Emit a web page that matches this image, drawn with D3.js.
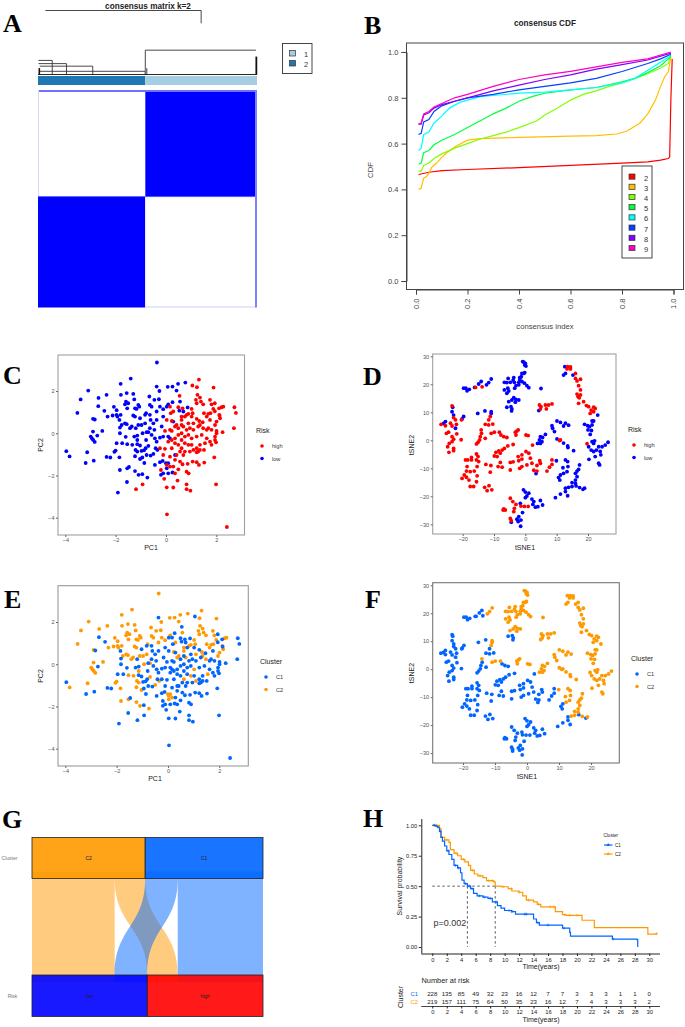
<!DOCTYPE html>
<html>
<head>
<meta charset="utf-8">
<script src="https://cdn.jsdelivr.net/npm/d3@7"></script>
<style>
html,body{margin:0;padding:0;background:#fff;}
svg{display:block;font-family:"Liberation Sans",Arial,sans-serif;}
.letter{font-family:"Liberation Serif",serif;font-weight:bold;font-size:26px;fill:#000;}
</style>
</head>
<body>
<svg id="fig" width="685" height="1027"></svg>
<script>
// panel A
var clusterShare = [0.49, 0.51];
var clusterKeys = ["1", "2"];
var clusterBarColors = ["#1F78B4", "#A6CEE3"];
var legendBarColors = ["#A6CEE3", "#1F78B4"];
var consensusValues = [[0, 1], [1, 0]];
// each merge: left x, right x, left height, right height, top height
var dendroMerges = [
	[0.034, 0.745, 1, 0.80, 1],
	[0.49, 0.995, 0, 0.38, 0.38],
	[0.002, 0.065, 0.22, 0, 0.22],
	[0.002, 0.13, 0.17, 0, 0.17],
	[0.008, 0.25, 0.13, 0, 0.13],
	[0.008, 0.49, 0.05, 0, 0.05]
];

// panel B
var cdfKeys = ["2", "3", "4", "5", "6", "7", "8", "9"];
var cdfColors = ["#FF0000", "#FFBF00", "#80FF00", "#00FF40", "#00FFFF", "#0040FF", "#8000FF", "#FF00BF"];
var cdf2 = [[.01,.465],[.05,.475],[.1,.482],[.2,.487],[.4,.495],[.6,.505],[.8,.515],[.9,.52],[.95,.528],[.98,.535],[.985,.54],[.99,.8],[.995,.97]];
var cdf3 = [[.01,.40],[.02,.405],[.03,.45],[.04,.455],[.05,.47],[.06,.495],[.08,.515],[.1,.54],[.12,.56],[.15,.585],[.2,.615],[.25,.622],[.4,.627],[.6,.633],[.7,.635],[.78,.642],[.82,.655],[.87,.69],[.9,.73],[.93,.79],[.95,.85],[.965,.89],[.98,.915],[.99,.98]];
var cdf4 = [[.01,.48],[.02,.48],[.03,.505],[.05,.515],[.07,.535],[.1,.555],[.15,.58],[.2,.60],[.25,.62],[.3,.635],[.35,.65],[.4,.67],[.47,.70],[.5,.725],[.55,.755],[.6,.79],[.65,.815],[.7,.83],[.75,.85],[.8,.865],[.85,.885],[.9,.905],[.95,.93],[.98,.95],[.99,.99]];
var cdf5 = [[.01,.51],[.02,.515],[.03,.56],[.05,.57],[.07,.595],[.1,.615],[.15,.64],[.2,.67],[.25,.70],[.3,.73],[.35,.755],[.4,.785],[.45,.805],[.5,.82],[.6,.835],[.7,.845],[.8,.87],[.85,.885],[.9,.91],[.95,.94],[.99,.98]];
var cdf6 = [[.01,.57],[.02,.58],[.03,.64],[.05,.65],[.07,.69],[.1,.72],[.13,.755],[.17,.78],[.2,.79],[.25,.805],[.3,.81],[.4,.82],[.5,.825],[.6,.835],[.7,.845],[.8,.865],[.85,.885],[.9,.92],[.95,.955],[.99,.985]];
var cdf7 = [[.01,.64],[.02,.645],[.03,.695],[.05,.705],[.07,.74],[.1,.765],[.15,.785],[.2,.80],[.3,.815],[.4,.835],[.5,.85],[.6,.865],[.7,.885],[.8,.915],[.9,.95],[.95,.97],[.99,.99]];
var cdf8 = [[.01,.685],[.02,.685],[.03,.725],[.05,.735],[.07,.755],[.1,.77],[.15,.785],[.2,.80],[.3,.83],[.4,.855],[.5,.88],[.6,.90],[.7,.925],[.8,.945],[.9,.965],[.99,.995]];
var cdf9 = [[.01,.685],[.02,.69],[.03,.73],[.05,.74],[.07,.76],[.1,.775],[.15,.80],[.2,.815],[.3,.85],[.4,.88],[.5,.90],[.6,.915],[.7,.935],[.8,.955],[.9,.97],[.99,1]];
var cdfSeries = [cdf2, cdf3, cdf4, cdf5, cdf6, cdf7, cdf8, cdf9];

// panels C and E: same samples, split by risk and by cluster
var pcaLowC1 = [[-3.96,-.85],[-3.19,-1.41],[-2.87,-1.3],[-2.73,-.11],[-2.83,.65],[-2.69,1.28],[-2.45,1.06],[-2.36,-1.12],[-2.21,-1.15],[-1.96,-.47],[-1.74,-.47],[-1.91,-2.81],[-1.55,-2.31],[-1.47,-1.6],[-1.85,.63],[-1.83,.27],[-1.83,0],[-1.6,-.17],[-1.26,-.16],[-1.14,-.11],[-1.2,.24],[-1.03,.71],[-.83,.87],[-.64,.24],[-.77,.05],[-.57,-.08],[-.44,-.24],[-.79,-.32],[-1.14,-.52],[-1.03,-.58],[-.97,-.84],[-.87,-.81],[-.81,-.71],[-.77,-1.03],[-.61,-1.06],[-.44,-1.5],[-.41,-.71],[-.24,-1.37],[-.13,-1.31],[-.94,-1.94],[-.86,-1.41],[-.94,-1.15],[-.46,.16],[-.61,.63],[-.5,.47],[-.37,.63],[-.17,.32],[-.24,-.21],[-.11,-.16],[-.11,.79],[.03,1.26],[.26,1.47],[.53,1.07],[.69,1.03],[.86,1.22],[.29,.55],[.36,-1.03],[.09,-1.9],[-.11,-1.9],[-.2,-1.97],[.26,-1.86],[.09,-.16],[.16,-.24],[-.37,-.4],[-.37,2.21],[-.64,.87]];
var pcaLowC2 = [[-3.83,-1.1],[-3.52,.96],[-3.39,1.6],[-3.09,2.02],[-3.13,-.9],[-2.99,-.16],[-2.94,-.25],[-2.89,-.32],[-2.83,-.41],[-2.9,.08],[-2.9,.68],[-2.68,1.67],[-2.53,.11],[-2.36,1.82],[-2.32,.79],[-2.12,.84],[-2.07,1.25],[-1.96,1.09],[-1.96,.87],[-1.8,2.34],[-1.79,1.82],[-1.56,1.9],[-1.4,2.59],[-1.3,1.86],[-1.26,1.6],[-1.59,1.5],[-1.63,1.37],[-1.5,1.42],[-1.54,1.18],[-1.23,1.18],[-1.06,1.26],[-1.17,1.15],[-1.1,1.34],[-1.93,.79],[-1.8,.87],[-1.76,.39],[-1.63,.47],[-1.56,.43],[-2,-.82],[-2.05,-.88],[-1.85,-1.14],[-1.83,-1.74],[-1.54,-1.66],[-1.54,-.52],[-1.23,-1.79],[-1.09,-1.97],[-.74,-2.1],[-1.03,-1.22],[-1.23,-1.09],[-1.21,-.79],[-1.14,-.87],[-1.34,-.55],[-.7,-.6],[-.5,-.98],[-.34,-.79],[-1.36,.32],[-1.43,.24],[-1.1,.39],[-.97,.39],[-.83,.47],[-1.23,.79],[-1.3,.84],[-.79,.95],[-.93,0],[-.7,.05],[-1.14,-.32],[-.64,1.34],[-.57,1.26],[-.66,1.74],[-.46,1.58],[-.28,1.61],[-.37,1.03],[-.24,1.26],[-.11,1.14],[.09,1.37],[-.36,3.35],[-.26,2],[.07,2.2],[.26,2.21],[.42,2.02],[.48,2.34],[.77,2.4],[.56,1.5],[.03,-1.66],[.09,-1.42],[0,-1.42]];
var pcaHighC1 = [[1.05,2.26],[.54,1.77],[.16,1.26],[.19,.95],[.49,1.23],[.66,1.18],[.75,.79],[1.02,.79],[1.22,.68],[1.46,.52],[1.75,.63],[2.11,1.18],[.16,.16],[.23,.11],[.49,.24],[.62,.39],[.82,.16],[.95,.24],[1.09,.16],[1.28,.32],[1.62,.16],[1.81,.16],[2.01,.11],[2.25,.05],[2.7,.24],[2.78,.96],[2.72,1.23],[.09,-.4],[.23,-.32],[.36,-.24],[.49,-.08],[.62,0],[.75,-.16],[.89,-.08],[1.22,-.16],[1.42,-.08],[1.62,-.24],[1.75,-.4],[1.95,-.32],[1.99,-.43],[1.81,-.55],[1.35,-.55],[1.22,-.71],[1.28,-.87],[.95,-.87],[.75,-.87],[.49,-.55],[.36,-.47],[.23,-.71],[-.04,-.74],[-.24,-.71],[-.11,-1.03],[.16,-1.11],[.36,-1.26],[.56,-1.34],[.29,-1.58],[.49,-1.71],[.66,-1.47],[.86,-1.45],[1.06,-1.34],[1.22,-1.37],[1.31,-1.5],[1.52,-1.39],[1.92,-1.14],[1.51,-.79],[1.22,-.9],[1.35,-.79],[.82,-1.82],[.9,-1.9],[.36,-1.9],[-.07,-2.16],[-.2,-1.74],[.46,-2.24],[.82,-2.42],[1.99,-2.42],[.03,-2.56],[.29,-2.57],[.82,-2.65],[.97,-2.72],[-1.19,-2.65],[-.93,-2.42],[.04,-3.84],[2.42,-4.44],[.56,-.87],[.69,-1.03],[1.02,-.55],[.75,-.47],[.62,-.32],[.42,-1.03],[-.04,.11],[.03,.63],[.89,.47],[1.68,.24],[2.01,0],[1.95,-.16],[2.13,.83],[1.94,1.04],[1.94,1.42]];
var pcaHighC2 = [[1.31,2.54],[1.23,2.18],[1.89,2.16],[1.25,1.82],[1.35,1.69],[1.75,1.58],[1.39,1.5],[1.19,1.58],[1.48,1.37],[1.22,1.42],[1.81,1.37],[2.21,1.23],[2.28,1.26],[1.88,1.15],[1.68,.92],[1.77,.95],[2.12,.87],[2.15,.71],[2.01,.55],[1.95,.39],[.29,1.03],[.82,.87],[.62,.79],[1.02,1.15],[1.06,.95],[.89,.92],[1.32,.58],[1.51,.95],[1.62,.79],[.36,.32],[.69,.32],[1.48,.24],[1.02,-.24],[1.55,-.47],[1.09,-.79],[.62,-.71],[.89,-.55],[.03,-1.5],[.16,-1.58],[.23,.58],[.62,.63],[.42,.39],[1.09,.47],[1.35,.39]];

// panels D and F
var tsneLowC1 = [[-5.9,11.8],[-4.6,12],[-4.3,11.2],[-4.4,10.5],[-19.7,18.6],[-19,18.6],[-18.6,17.7],[-17.9,18.2],[-16.2,18.9],[-14.9,20.1],[-23.2,11.8],[-23.4,10.2],[-22.9,9],[-19.7,8.5],[-20.2,7.6],[-25.5,6.7],[-26.1,6],[-22.3,4.3],[-15.2,9.6],[-12.9,10.5],[10.6,-13.3],[11,-14.2],[11.2,-12.4],[12.8,-17.1],[12.8,-18.3],[13.5,-19.8],[11.2,-19.2],[9.6,-20.5],[16.2,-16.3],[18.4,-17.5],[3.4,-11.9],[-.6,-17.7],[0,-18.5],[1.1,-18.9],[.5,-19.9],[0,-20.5],[2.1,-21],[2.7,-21.9],[4.8,-21.5],[2.4,-22.9],[5.5,-23.1],[4,-23.7],[3.2,-23.9],[-1.6,-22.5],[-.9,-25.8],[-2.1,-27.3],[-2.7,-28.2],[-1.4,-28.5],[-2.3,-29],[-4.5,-29.3],[-1.5,-30.7],[-14.1,21]];
var tsneLowC2 = [[-.85,28.1],[-.5,27.9],[0,27.5],[-.2,26.9],[.2,26.5],[-.5,23.9],[-1.1,23.9],[-.2,24.2],[-1.3,22.7],[-1.8,22.4],[-1.8,21.5],[-2.1,20.7],[-1.1,21],[-.3,20.4],[.5,19.5],[1.1,18.8],[-3.7,22.4],[-3.9,21.5],[-5.5,22.1],[-6.7,20.7],[-5.9,20.6],[-4.8,20.7],[-3.5,20.7],[-3,19.5],[-5.6,18.6],[-3.4,18.6],[-2.1,19.8],[-6.7,18],[-5.3,17.6],[-5.9,16.8],[-3.7,15.2],[-3,14.6],[-4.3,14.4],[-2.1,14.4],[-3.2,13.6],[-5.3,13.8],[5,18.5],[-12.4,19.8],[-11.7,20.6],[-10.9,21.9],[-10.9,10.2],[-10.9,9.6],[4.3,10.6],[10.1,6.9],[11.2,6.4],[12.8,6.1],[13.8,5.4],[12.2,5.1],[8.5,5.2],[8.7,4.3],[9.3,3.1],[6.4,2.1],[4.8,1.3],[5.5,1],[4.5,.1],[5.3,-.5],[4.8,-1.1],[3.9,-1.1],[10.1,.5],[12.2,-1],[13.5,-2],[15.4,-3.7],[13.6,-2.6],[21.3,6.9],[21.8,6.9],[18.9,5.7],[19.9,5.2],[20.5,4.9],[21.3,5.5],[20,3.7],[21.1,3.5],[20.7,2.1],[21.3,-.5],[22.1,-.2],[21.8,-1.1],[20.2,-2.3],[21,-3.5],[21.8,-4],[22.7,-3.5],[23.4,-2.3],[24.5,-2.3],[25.5,-1.7],[26.4,-.7],[23.9,-4],[24.1,-5.2],[22.3,-5.8],[20.3,-6.8],[23.4,-8.2],[23.7,-8.8],[23.1,9],[9.9,-7.3],[12.8,-7],[13.5,-7.6],[17.3,-8.8],[17,-10.4],[16.5,-11],[16,-11.8],[13.6,-9.4],[12,-9.8],[13.3,-11.2],[12.2,-11.8],[16.5,-13],[16,-14.2],[14.9,-15.1],[16,-15.4],[13.8,-16.8],[14.9,-16.5],[17.3,-16.9],[18.9,-17.1],[12.6,26.3],[12.2,23.3],[12.8,23.9],[15.2,23.3]];
var tsneHighC1 = [[-23.4,12.3],[-22.9,8.1],[-22.3,7.3],[-20.4,7.3],[-26.9,5.7],[-25.5,5.2],[-23.9,6.1],[-23.4,5.1],[-22,5.7],[-24.5,2.9],[-25.2,2.5],[-21.9,2.3],[-22.9,.4],[-23.4,-.5],[-20.5,.2],[-24.3,-1.1],[-24.8,-2.3],[-22.9,-2.9],[-24.4,-4.3],[-22.9,-3.7],[-23.4,1.3],[-11.7,7.3],[-12.8,5.7],[-11.7,5.5],[-10.4,5.8],[-14,2.5],[-14.4,1.3],[-12.8,.7],[-14.6,.1],[-15.1,-.7],[-15.6,-1.3],[-7.8,1.9],[-6.9,1.3],[-5.9,1],[-3.9,-1.5],[2.3,-1.7],[-5.6,-2],[-6.7,-2.9],[-7.4,-3.5],[-8.5,-3.8],[-9.4,-4.3],[-8,-4.6],[-9.9,-5.6],[-9,-5.8],[-15.6,-4.9],[-15.1,-5.8],[-17.2,-6.1],[-19.1,-7],[-18.4,-7],[-17.2,-7],[-15.6,-7],[-14.9,-7.6],[-15.4,-9.4],[-18.6,-9.4],[-16.3,-11],[-18.8,-11],[-17.6,-11.2],[-19.5,-12.4],[-20.2,-13.6],[-18.8,-13.2],[-15.4,-12.7],[-18,-14.2],[-15.6,-14.8],[-17.6,-16.5],[-16.5,-16.5],[-12.6,-8.6],[-11,-9],[-11.2,-11.4],[-13,-16.8],[-11.6,-16.2],[-12.2,-18],[-10.7,-17.7],[-8,-7.9],[-8.7,-9.4],[-7.4,-9.6],[-4.8,-7.9],[-3.9,-7.7],[-4.8,-10.6],[-2.3,-5.8],[-2.1,-7.3],[-1.1,-5.2],[.2,-4],[1.1,-4.6],[-1.1,-6.7],[-1.8,-10],[-1.1,-9.4],[.5,-8.8],[2.1,-8.2],[1.6,-6.4],[4.6,-7.3],[4.8,-8.2],[3.7,-9],[2.7,-10.7],[3.7,-11],[8.5,-7],[8.5,-8.6],[7.7,-9.6],[6.9,-11],[-4.8,-20.7],[-4,-21.9],[-6.9,-24.5],[-6.4,-24.9],[-7.1,-24.9],[-3.7,-25.5],[-3.5,-24.3],[-3,-22.9],[-1.4,-23.5],[-.3,-23.6],[.9,-23.6],[-4.8,-27.9],[-4.5,-28.7],[-15.9,18.9],[-13.8,19.1]];
var tsneHighC2 = [[13.5,26.3],[14.4,26.2],[13.3,25.5],[14.4,25.5],[16,23.9],[16,22.1],[16.5,21.2],[17.6,21.8],[17,19.5],[17.6,18],[16.5,16.5],[17.6,16.2],[16.8,15.6],[17.2,15.2],[18.6,13.8],[17,13.2],[19.5,12.4],[20.2,12],[21.8,11.8],[22.3,11.4],[21,10.8],[20.7,9.6],[21.8,10.2],[19.7,-1.2],[4.5,12.6],[5,12],[6.4,12.6],[7.4,12.6],[8.5,13],[4.8,11.2],[6.7,11.2],[10.9,-.1],[11.2,.1],[-11.2,8.5],[-14.1,3.7],[-10.9,2.5],[-9.9,2.9],[-8.3,2.9],[-3.2,2.9],[-2.7,3.3],[-2.3,3.7],[-3,1.9],[.2,1.9],[.9,1.7]];

// panel G: patients per cluster -> risk flow
var flowFrom = ["C2", "C2", "C1", "C1"];
var flowTo = ["low", "high", "low", "high"];
var flowCounts = [160, 59, 63, 165];

// panel H
var kmC1 = [[0,1],[.5,.99],[.8,.98],[1,.95],[1.2,.90],[1.4,.87],[1.7,.83],[2,.79],[2.3,.76],[2.7,.72],[3,.67],[3.5,.65],[3.9,.61],[4.1,.55],[4.4,.52],[4.85,.50],[5.3,.48],[5.7,.44],[6.2,.42],[7,.41],[7.7,.40],[8.3,.37],[9,.34],[9.5,.32],[10,.30],[11,.29],[11.5,.27],[14,.23],[14.4,.20],[14.8,.18],[18,.155],[19,.12],[19.1,.09],[24.9,.065],[28.3,.06],[28.4,0]];
var kmC2 = [[0,1],[1,.97],[1.2,.90],[1.7,.88],[2.3,.86],[2.5,.80],[3,.77],[3.5,.75],[4,.72],[4.5,.70],[5,.67],[5.3,.63],[5.8,.60],[6.3,.585],[7,.57],[7.5,.545],[8.5,.535],[8.7,.50],[9.5,.495],[10.5,.48],[11,.46],[12,.45],[12.5,.42],[13,.385],[14,.37],[14.5,.35],[15,.33],[17,.29],[18,.265],[18.5,.26],[20.3,.26],[20.7,.22],[22.4,.16],[29.8,.105],[31,.11]];
var censorC1 = [.3,.7,1.1,2.2,3.2,3.6,4.6,5.1,5.5,6.5,7.2,8,8.8,10.6,11,12.8,13,14.6,16,18.2,25];
var censorC2 = [.2,.6,1.4,2,3.3,4.3,5.6,6.6,7.8,8.3,9.8,10.9,12,13.3,14.7,16.3,16.8,18.3,19,20,31];
var medianTimes = [4.85, 8.7];
var riskTimes = d3.range(0, 31, 2);
var riskC1 = [228, 135, 85, 49, 32, 23, 16, 12, 7, 7, 3, 3, 3, 1, 1, 0];
var riskC2 = [219, 157, 111, 75, 64, 50, 35, 23, 16, 12, 7, 4, 3, 3, 3, 2];

var panelLetters = [["A",3,32],["B",364,34],["C",3,384],["D",363,385],["E",4,608],["F",365,608],["G",2,828],["H",363,827]];

var riskColor = {high:"#FF0000", low:"#0000FF"};
var clusterColor = {C1:"#0066FF", C2:"#FF9900"};

var svg = d3.select("#fig");

svg.selectAll("text.letter")
	.data(panelLetters)
	.enter().append("text")
	.attr("class","letter")
	.attr("x",function(d){return d[1];})
	.attr("y",function(d){return d[2];})
	.text(function(d){return d[0];});

function label(x,y,txt,size,color,anchor,rotate){
	var t = svg.append("text")
		.attr("x",x).attr("y",y)
		.attr("font-size",size)
		.attr("fill",color || "#333")
		.attr("text-anchor",anchor || "middle")
		.text(txt);
	if(rotate){
		t.attr("transform","rotate("+rotate+" "+x+" "+y+")");
	}
	return t;
}

// ---- A ----
function drawConsensus(){
	label(148,8.5,"consensus matrix k=2",8.2,"#222").attr("font-weight","bold");
	var dx = d3.scaleLinear().domain([0,1]).range([38,257]);
	var dy = d3.scaleLinear().domain([0,1]).range([74.5,10.5]);
	var g = svg.append("g").attr("fill","none").attr("stroke","#333").attr("stroke-width",0.9);
	g.selectAll("path")
		.data(dendroMerges)
		.enter().append("path")
		.attr("d",function(d){
			return "M"+dx(d[0])+","+dy(d[2])+"V"+dy(d[4])+"H"+dx(d[1])+"V"+dy(d[3]);
		});
	// dense leaves of the tree
	g.append("path").attr("stroke","#111").attr("stroke-width",1.6).attr("d","M"+dx(0.006)+","+dy(0.1)+"V"+dy(0));
	g.append("path").attr("stroke","#111").attr("stroke-width",1.8).attr("d","M"+dx(0.997)+","+dy(0.28)+"V"+dy(0));
	g.append("path").attr("stroke","#777").attr("stroke-width",2.4).attr("d","M"+dx(0.494)+","+dy(0.1)+"V"+dy(0));
	g.append("path").attr("stroke","#111").attr("stroke-width",0.9).attr("d","M"+dx(0)+","+dy(0)+"H"+dx(1));

	var cum = [0, clusterShare[0], 1];
	svg.selectAll("rect.bar")
		.data(clusterBarColors)
		.enter().append("rect")
		.attr("class","bar")
		.attr("x",function(d,i){return dx(cum[i]);})
		.attr("width",function(d,i){return dx(cum[i+1])-dx(cum[i]);})
		.attr("y",76).attr("height",9)
		.attr("fill",function(d){return d;});

	var hy = d3.scaleLinear().domain([0,1]).range([90,307.5]);
	var shade = d3.scaleLinear().domain([0,1]).range(["#FFFFFF","#0000FF"]);
	consensusValues.forEach(function(row,r){
		row.forEach(function(v,c){
			svg.append("rect")
				.attr("x",dx(cum[c]))
				.attr("width",dx(cum[c+1])-dx(cum[c]))
				.attr("y",hy(cum[r]))
				.attr("height",hy(cum[r+1])-hy(cum[r]))
				.attr("fill",shade(v));
		});
	});
	// washed edges of the matrix
	svg.append("rect").attr("x",dx(0)).attr("width",dx(1)-dx(0)).attr("y",hy(0)).attr("height",2)
		.attr("fill","#7070FF");
	svg.append("rect").attr("x",dx(1)-2).attr("width",2).attr("y",hy(0)).attr("height",hy(1)-hy(0))
		.attr("fill","#8080FF");
	svg.append("rect").attr("x",dx(0)).attr("width",1).attr("y",hy(0)).attr("height",hy(.49)-hy(0))
		.attr("fill","#D8D8FF");
	svg.append("rect").attr("x",dx(.49)).attr("width",dx(1)-dx(.49)-2).attr("y",hy(1)-1).attr("height",1)
		.attr("fill","#D0D0FF");
	svg.append("rect").attr("x",dx(.49)).attr("width",dx(1)-dx(.49)-2).attr("y",hy(.49)-.5).attr("height",1)
		.attr("fill","#5050FF");
	svg.append("rect").attr("x",dx(0)).attr("width",dx(.49)-dx(0)).attr("y",hy(.49)-.5).attr("height",1)
		.attr("fill","#6060FF");

	svg.append("rect").attr("x",282.5).attr("y",43.5).attr("width",29.5).attr("height",30)
		.attr("fill","#fff").attr("stroke","#333").attr("stroke-width",0.9);
	legendBarColors.forEach(function(c,i){
		svg.append("rect").attr("x",289.5).attr("y",50.5+i*10).attr("width",6).attr("height",5.5)
			.attr("fill",c).attr("stroke","#333").attr("stroke-width",0.7);
		label(306,57+i*10,clusterKeys[i],7.5,"#333");
	});
}

// ---- B ----
function drawCdf(){
	var x = d3.scaleLinear().domain([0,1]).range([416,673.5]);
	var y = d3.scaleLinear().domain([0,1]).range([281,52]);
	svg.append("rect").attr("x",406.5).attr("y",43).attr("width",277).attr("height",246.5)
		.attr("fill","none").attr("stroke","#444").attr("stroke-width",1);
	var line = d3.line().x(function(d){return x(d[0]);}).y(function(d){return y(d[1]);});
	svg.selectAll("path.cdf")
		.data(cdfSeries)
		.enter().append("path")
		.attr("class","cdf")
		.attr("d",line)
		.attr("fill","none")
		.attr("stroke",function(d,i){return cdfColors[i];})
		.attr("stroke-width",1.2);

	var ax = svg.append("g").attr("transform","translate(0,289.5)")
		.call(d3.axisBottom(x).tickValues([0,.2,.4,.6,.8,1]).tickFormat(d3.format(".1f")).tickSize(5));
	ax.select(".domain").attr("stroke","#444");
	ax.selectAll("line").attr("stroke","#444");
	ax.selectAll("text").attr("font-size",7.5).attr("fill","#444").attr("font-family","Liberation Sans")
		.attr("transform","rotate(-90)").attr("text-anchor","end").attr("x",-9).attr("y",0).attr("dy","0.32em");
	var ay = svg.append("g").attr("transform","translate(406.5,0)")
		.call(d3.axisLeft(y).tickValues([0,.2,.4,.6,.8,1]).tickFormat(d3.format(".1f")).tickSize(5));
	ay.select(".domain").attr("stroke","#444");
	ay.selectAll("line").attr("stroke","#444");
	ay.selectAll("text").attr("font-size",7.5).attr("fill","#444").attr("font-family","Liberation Sans");

	label(545,26,"consensus CDF",8.2,"#222").attr("font-weight","bold");
	label(545,328.5,"consensus index",7.7,"#444");
	label(373,170,"CDF",7.7,"#444","middle",-90);

	svg.append("rect").attr("x",622).attr("y",166).attr("width",30).attr("height",92)
		.attr("fill","#fff").attr("stroke","#333").attr("stroke-width",0.9);
	cdfKeys.forEach(function(k,i){
		svg.append("rect").attr("x",629).attr("y",174+i*10.2).attr("width",6).attr("height",5.2)
			.attr("fill",cdfColors[i]).attr("stroke","#333").attr("stroke-width",0.7);
		label(646,180.5+i*10.2,k,7.5,"#333");
	});
}

// ---- C D E F ----
function drawScatter(opt){
	var x = d3.scaleLinear().domain(opt.xDomain).range(opt.xRange);
	var y = d3.scaleLinear().domain(opt.yDomain).range(opt.yRange);
	var b = opt.box;
	var fmt = function(d){return String(d).replace("-","\u2212");};

	opt.groups.forEach(function(grp){
		svg.append("g").selectAll("circle")
			.data(grp.points)
			.enter().append("circle")
			.attr("cx",function(d){return x(d[0]);})
			.attr("cy",function(d){return y(d[1]);})
			.attr("r",opt.r)
			.attr("fill",grp.color);
	});
	svg.append("rect").attr("x",b[0]).attr("y",b[1]).attr("width",b[2]-b[0]).attr("height",b[3]-b[1])
		.attr("fill","none").attr("stroke",opt.border).attr("stroke-width",1.1);

	var ax = svg.append("g").attr("transform","translate(0,"+b[3]+")")
		.call(d3.axisBottom(x).tickValues(opt.xTicks).tickFormat(fmt).tickSize(2).tickPadding(1.5));
	var ay = svg.append("g").attr("transform","translate("+b[0]+",0)")
		.call(d3.axisLeft(y).tickValues(opt.yTicks).tickFormat(fmt).tickSize(2).tickPadding(1.5));
	[ax,ay].forEach(function(a){
		a.select(".domain").remove();
		a.selectAll("line").attr("stroke","#666");
		a.selectAll("text").attr("font-size",5.6).attr("fill","#555").attr("font-family","Liberation Sans");
	});

	label(opt.xLabel[1],opt.xLabel[2],opt.xLabel[0],7,"#222");
	label(opt.yLabel[1],opt.yLabel[2],opt.yLabel[0],7,"#222","middle",-90);

	var lg = opt.legend;
	label(lg.x,lg.y,lg.title,7,"#222","start");
	lg.keys.forEach(function(k,i){
		svg.append("circle").attr("cx",lg.x+6).attr("cy",lg.y+13+i*12.5).attr("r",1.8).attr("fill",lg.colors[i]);
		label(lg.x+16,lg.y+15+i*12.5,k,5.6,"#333","start");
	});
}

var pcaTicks = [-4,-2,0,2];
var tsneXTicks = [-20,-10,0,10,20];
var tsneYTicks = [-30,-20,-10,0,10,20,30];

drawConsensus();
drawCdf();

drawScatter({
	xDomain:[-4,2], xRange:[65.3,216.3], yDomain:[-4,2], yRange:[517.7,391],
	box:[58,355,244.5,535], r:1.9, border:"#A0A0A0",
	xTicks:pcaTicks, yTicks:pcaTicks,
	xLabel:["PC1",151,550], yLabel:["PC2",43,445],
	groups:[
		{points:pcaLowC1.concat(pcaLowC2), color:riskColor.low},
		{points:pcaHighC1.concat(pcaHighC2), color:riskColor.high}
	],
	legend:{x:256,y:433,title:"Risk",keys:["high","low"],colors:[riskColor.high,riskColor.low]}
});
drawScatter({
	xDomain:[-20,20], xRange:[462.7,588], yDomain:[-30,30], yRange:[524.3,356.3],
	box:[432.7,354,616,534], r:1.9, border:"#A0A0A0",
	xTicks:tsneXTicks, yTicks:tsneYTicks,
	xLabel:["tSNE1",525,550], yLabel:["tSNE2",414,445],
	groups:[
		{points:tsneLowC1.concat(tsneLowC2), color:riskColor.low},
		{points:tsneHighC1.concat(tsneHighC2), color:riskColor.high}
	],
	legend:{x:628,y:432,title:"Risk",keys:["high","low"],colors:[riskColor.high,riskColor.low]}
});
drawScatter({
	xDomain:[-4,2], xRange:[65.3,219.3], yDomain:[-4,2], yRange:[748.7,622],
	box:[58,585.7,248.3,766], r:1.9, border:"#999",
	xTicks:pcaTicks, yTicks:pcaTicks,
	xLabel:["PC1",155,781], yLabel:["PC2",43,676],
	groups:[
		{points:pcaLowC2.concat(pcaHighC2), color:clusterColor.C2},
		{points:pcaLowC1.concat(pcaHighC1), color:clusterColor.C1}
	],
	legend:{x:260,y:664,title:"Cluster",keys:["C1","C2"],colors:[clusterColor.C1,clusterColor.C2]}
});
drawScatter({
	xDomain:[-20,20], xRange:[463,591], yDomain:[-30,30], yRange:[753,585.3],
	box:[432.7,582.7,619.3,763], r:1.9, border:"#777",
	xTicks:tsneXTicks, yTicks:tsneYTicks,
	xLabel:["tSNE1",527,779], yLabel:["tSNE2",414,673],
	groups:[
		{points:tsneLowC1.concat(tsneHighC1), color:clusterColor.C1},
		{points:tsneLowC2.concat(tsneHighC2), color:clusterColor.C2}
	],
	legend:{x:631,y:661,title:"Cluster",keys:["C1","C2"],colors:[clusterColor.C1,clusterColor.C2]}
});

// ---- G ----
function drawAlluvial(){
	var total = d3.sum(flowCounts);
	var x = d3.scaleLinear().domain([0,total]).range([32,263]);
	var topOrder = ["C2","C1"], bottomOrder = ["low","high"];
	var colors = {C2:"#FF9900", C1:"#0066FF", low:"#0000FF", high:"#FF0000"};
	var yTop = [837.5,878.5], yBot = [975,1016.5], ext = 7;

	// cumulative position of every flow inside its stratum, keeping the flow order
	var topPos = 0, topStart = {}, botStart = {}, botPos = 0;
	topOrder.forEach(function(k){topStart[k]=topPos; topPos+=d3.sum(flowCounts.filter(function(c,i){return flowFrom[i]==k;}));});
	bottomOrder.forEach(function(k){botStart[k]=botPos; botPos+=d3.sum(flowCounts.filter(function(c,i){return flowTo[i]==k;}));});
	var topUsed = {C2:0,C1:0}, botUsed = {low:0,high:0};
	// low side takes C2 first, then C1 crosses in next to it: flows stay uncrossed at the strata edges
	var flows = flowCounts.map(function(c,i){
		return {from:flowFrom[i], to:flowTo[i], n:c};
	});
	flows.forEach(function(f){
		f.t0 = topStart[f.from]+topUsed[f.from]; topUsed[f.from]+=f.n;
		f.b0 = botStart[f.to]+botUsed[f.to]; botUsed[f.to]+=f.n;
	});
	var mid = (yTop[1]+yBot[0])/2;
	flows.forEach(function(f){
		var a0=x(f.t0), a1=x(f.t0+f.n), b0=x(f.b0), b1=x(f.b0+f.n);
		var d = "M"+a0+","+(yTop[1]-ext)+"L"+a1+","+(yTop[1]-ext)+"L"+a1+","+yTop[1]
			+"C"+a1+","+mid+" "+b1+","+mid+" "+b1+","+yBot[0]
			+"L"+b1+","+(yBot[0]+ext)+"L"+b0+","+(yBot[0]+ext)+"L"+b0+","+yBot[0]
			+"C"+b0+","+mid+" "+a0+","+mid+" "+a0+","+yTop[1]+"Z";
		svg.append("path").attr("d",d).attr("fill",colors[f.from]).attr("fill-opacity",0.5);
	});
	function strata(keys,starts,used,y){
		keys.forEach(function(k){
			svg.append("rect")
				.attr("x",x(starts[k])).attr("width",x(starts[k]+used[k])-x(starts[k]))
				.attr("y",y[0]).attr("height",y[1]-y[0])
				.attr("fill",colors[k]).attr("fill-opacity",0.9)
				.attr("stroke","#222").attr("stroke-width",0.8);
			label((x(starts[k])+x(starts[k]+used[k]))/2,(y[0]+y[1])/2+1.8,k,5,"#222");
		});
	}
	strata(topOrder,topStart,topUsed,yTop);
	strata(bottomOrder,botStart,botUsed,yBot);
	label(9.5,860,"Cluster",5,"#777");
	label(12.5,998,"Risk",5,"#777");
}
drawAlluvial();

// ---- H ----
function drawKm(){
	var x = d3.scaleLinear().domain([0,30]).range([432.3,649.3]);
	var y = d3.scaleLinear().domain([0,1]).range([947,825.3]);
	var fmt = d3.format(".2f");

	var dash = svg.append("g").attr("stroke","#333").attr("stroke-width",0.8).attr("stroke-dasharray","2.5,2.5");
	dash.append("line").attr("x1",x(0)).attr("x2",x(medianTimes[1])).attr("y1",y(.5)).attr("y2",y(.5));
	medianTimes.forEach(function(t){
		dash.append("line").attr("x1",x(t)).attr("x2",x(t)).attr("y1",y(.5)).attr("y2",y(0));
	});

	var line = d3.line().curve(d3.curveStepAfter).x(function(d){return x(d[0]);}).y(function(d){return y(d[1]);});
	function survAt(curve,t){
		var i = d3.bisector(function(d){return d[0];}).right(curve,t)-1;
		return curve[Math.max(i,0)][1];
	}
	[[kmC2,censorC2,clusterColor.C2],[kmC1,censorC1,clusterColor.C1]].forEach(function(s){
		svg.append("path").attr("d",line(s[0])).attr("fill","none").attr("stroke",s[2]).attr("stroke-width",1.2);
		svg.append("g").selectAll("path")
			.data(s[1])
			.enter().append("path")
			.attr("d",function(t){
				var px=x(t), py=y(survAt(s[0],t));
				return "M"+(px-1.5)+","+py+"H"+(px+1.5)+"M"+px+","+(py-1.5)+"V"+(py+1.5);
			})
			.attr("stroke",s[2]).attr("stroke-width",0.6).attr("fill","none");
	});

	var ax = svg.append("g").attr("transform","translate(0,953.5)")
		.call(d3.axisBottom(x).tickValues(riskTimes).tickSize(2.5).tickPadding(1.5));
	ax.select(".domain").attr("d","M421.3,0.5H660").attr("stroke","#222");
	var ay = svg.append("g").attr("transform","translate(421.3,0)")
		.call(d3.axisLeft(y).tickValues([0,.25,.5,.75,1]).tickFormat(fmt).tickSize(2.5).tickPadding(1.5));
	ay.select(".domain").attr("d","M0.5,819V953.5").attr("stroke","#222");
	[ax,ay].forEach(function(a){
		a.selectAll("line").attr("stroke","#222");
		a.selectAll("text").attr("font-size",5.8).attr("fill","#222").attr("font-family","Liberation Sans");
	});
	label(541,969,"Time(years)",7,"#222");
	label(402,886,"Survival probability",7,"#222","middle",-90);
	label(450,926,"p=0.002",9,"#333");

	label(603.5,837,"Cluster",4.6,"#222","start");
	[["C1",845],["C2",854]].forEach(function(k){
		svg.append("line").attr("x1",604).attr("x2",612.5).attr("y1",k[1]).attr("y2",k[1])
			.attr("stroke",clusterColor[k[0]]).attr("stroke-width",1.2);
		svg.append("path").attr("d",d3.symbol().type(d3.symbolTriangle).size(5)())
			.attr("transform","translate(608.2,"+k[1]+")").attr("fill",clusterColor[k[0]]);
		label(615,k[1]+1.7,k[0],4.6,"#222","start");
	});

	// number at risk table
	label(421.5,983,"Number at risk",7.4,"#222","start");
	var rows = [[riskC1,995.5,"C1"],[riskC2,1003.5,"C2"]];
	rows.forEach(function(r){
		svg.append("g").selectAll("text")
			.data(r[0])
			.enter().append("text")
			.attr("x",function(d,i){return x(riskTimes[i]);})
			.attr("y",r[1])
			.attr("text-anchor","middle")
			.attr("font-size",6.1)
			.attr("fill","#222")
			.text(function(d){return d;});
		label(418,r[1],r[2],5.8,clusterColor[r[2]],"end");
	});
	var at = svg.append("g").attr("transform","translate(0,1006)")
		.call(d3.axisBottom(x).tickValues(riskTimes).tickSize(2.5).tickPadding(1.5));
	at.select(".domain").attr("d","M421.3,0.5H660").attr("stroke","#444").attr("stroke-width",1);
	at.selectAll("line").attr("stroke","#222");
	at.selectAll("text").attr("font-size",5.8).attr("fill","#222").attr("font-family","Liberation Sans");
	label(541,1022,"Time(years)",7,"#222");
	label(402.5,997,"Cluster",7,"#222","middle",-90);
}
drawKm();
</script>
</body>
</html>
